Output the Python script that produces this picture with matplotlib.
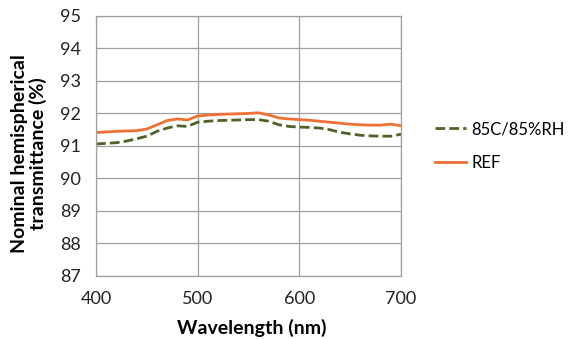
"""Transmittance spectra, REF vs 85C/85%RH."""

import matplotlib as mpl
import matplotlib.pyplot as plt

wavelength = [400, 410, 420, 430, 440, 450, 460, 470, 480, 490, 500,
              510, 520, 530, 540, 550, 560, 570, 580, 590, 600,
              610, 620, 630, 640, 650, 660, 670, 680, 690, 700]
ref = [91.41, 91.43, 91.45, 91.46, 91.47, 91.52, 91.65, 91.78, 91.83, 91.80, 91.92,
       91.95, 91.97, 91.98, 91.99, 92.00, 92.02, 91.95, 91.86, 91.83, 91.81,
       91.79, 91.76, 91.73, 91.70, 91.67, 91.65, 91.64, 91.64, 91.67, 91.62]
damp_heat = [91.06, 91.08, 91.10, 91.15, 91.22, 91.30, 91.45, 91.55, 91.62, 91.60, 91.73,
             91.76, 91.78, 91.79, 91.80, 91.81, 91.81, 91.76, 91.65, 91.60, 91.58,
             91.57, 91.55, 91.50, 91.42, 91.37, 91.33, 91.31, 91.30, 91.30, 91.36]
x_ticks = [400, 500, 600, 700]
y_ticks = [87, 88, 89, 90, 91, 92, 93, 94, 95]

mpl.rcParams.update({"font.family": ["Lato", "DejaVu Sans"], "font.size": 12})

fig = plt.figure(figsize=(5.68, 3.39), dpi=100)
ax = fig.add_axes([0.169, 0.186, 0.537, 0.767])

ax.plot(wavelength, damp_heat, color="#4f6228", linestyle=(0, (3.5, 1.5)), linewidth=2.0, label="85C/85%RH")
ax.plot(wavelength, ref, color="#ed7035", linewidth=2.0, label="REF")

ax.set_xlim(400, 700)
ax.set_ylim(87, 95)
ax.set_xticks(x_ticks)
ax.set_yticks(y_ticks)
ax.grid(color="#a0a0a0", linewidth=0.9)
ax.set_axisbelow(True)
for spine in ax.spines.values():
    spine.set_color("#a0a0a0")
    spine.set_linewidth(0.9)
ax.tick_params(length=0, pad=11, labelsize=13, colors="#222222")

ax.set_xlabel("Wavelength (nm)", fontweight="bold", fontsize=14)
ax.set_ylabel("Nominal hemispherical\ntransmittance (%)", fontweight="bold", fontsize=14,
              linespacing=1.05)
ax.xaxis.set_label_coords(0.51, -0.165)
ax.yaxis.set_label_coords(-0.16, 0.47)

ax.legend(loc="center left", bbox_to_anchor=(1.11, 0.5), frameon=False, fontsize=12,
          handlelength=1.9, handletextpad=0.3, labelspacing=1.05, borderpad=0, borderaxespad=0)

fig.savefig("out.png", dpi=100)
